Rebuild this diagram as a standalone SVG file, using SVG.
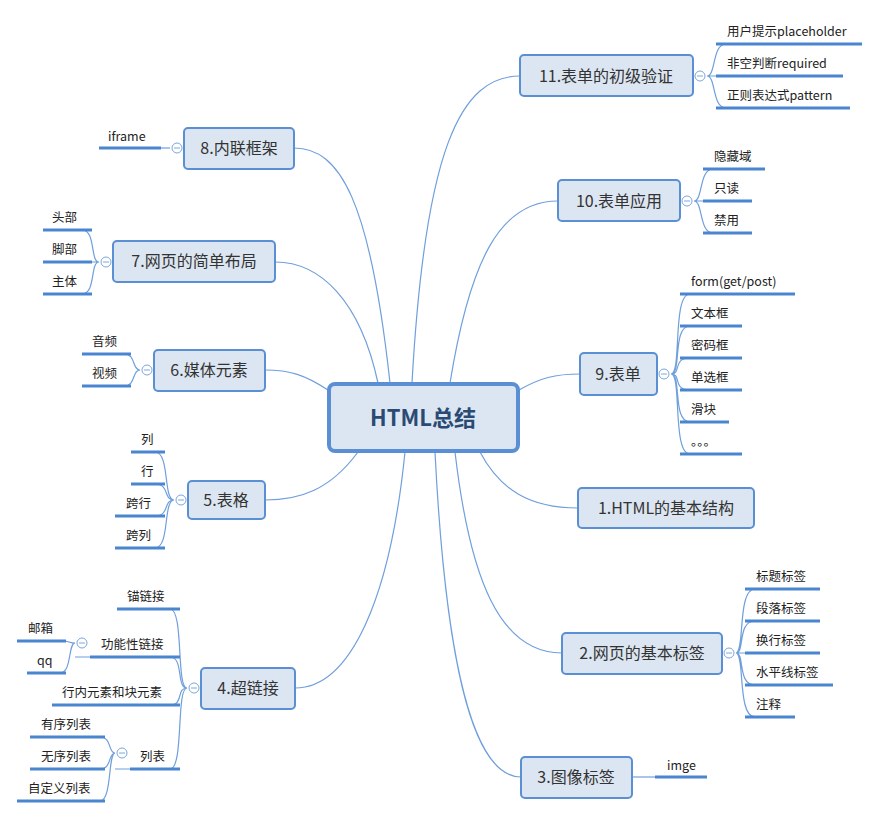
<svg xmlns="http://www.w3.org/2000/svg" width="880" height="818" viewBox="0 0 880 818">
<style>
.t{fill:#dce6f2;stroke:#5b8fd4;stroke-width:2}
.tt{font-family:"Microsoft YaHei","Noto Sans CJK SC",sans-serif;font-size:16px;fill:#333;text-anchor:middle}
.lt{font-family:"Microsoft YaHei","Noto Sans CJK SC",sans-serif;font-size:12.5px;fill:#222}
.ul{stroke:#4a86d0;stroke-width:3}
.c{fill:none;stroke:#6f9fdc;stroke-width:1.2}
.cc{fill:#fff;stroke:#7aa6de;stroke-width:1}
.m{stroke:#7aa6de;stroke-width:1}
</style>
<rect width="880" height="818" fill="#fff"/>
<g id="connectors">
<path class="c" d="M412 383 C425 150 460 76 520 76"/>
<path class="c" d="M450 383 C470 260 500 201 558 201"/>
<path class="c" d="M519 390 C540 378 555 374 580 374"/>
<path class="c" d="M480 452 C500 490 530 508 578 508"/>
<path class="c" d="M455 452 C470 580 500 653 562 653"/>
<path class="c" d="M435 452 C445 650 470 777 521 777"/>
<path class="c" d="M390 383 C370 200 340 148 294 148"/>
<path class="c" d="M378 383 C360 300 320 262 275 262"/>
<path class="c" d="M328 390 C305 375 290 370 265 370"/>
<path class="c" d="M358 452 C330 490 300 500 265 500"/>
<path class="c" d="M405 452 C390 600 350 688 295 688"/>
<path class="c" d="M632 777 L655 777"/>
<!-- leaf brackets right -->
<path class="c" d="M707 76 C716 76 712 44 726 44 M707 76 L716 76 M707 76 C716 76 712 108 726 108"/>
<path class="c" d="M694 201 C703 201 699 169 713 169 M694 201 L703 201 M694 201 C703 201 699 233 713 233"/>
<path class="c" d="M671 374 C682 374 672 294 690 294 M671 374 C682 374 672 326 690 326 M671 374 C682 374 672 358 690 358 M671 374 C682 374 672 390 690 390 M671 374 C682 374 672 422 690 422 M671 374 C682 374 672 454 690 454"/>
<path class="c" d="M736 653 C745 653 737 589 755 589 M736 653 C745 653 737 621 755 621 M736 653 L745 653 M736 653 C745 653 737 685 755 685 M736 653 C745 653 737 717 755 717"/>
<!-- left -->
<path class="c" d="M170 148 L161 148"/>
<path class="c" d="M99 262 C90 262 96 230 82 230 M99 262 L92 262 M99 262 C90 262 96 294 82 294"/>
<path class="c" d="M140 370 C132 370 136 354 124 354 M140 370 C132 370 136 386 124 386"/>
<path class="c" d="M174 500 C163 500 170 452 155 452 M174 500 C163 500 170 484 155 484 M174 500 C163 500 170 516 155 516 M174 500 C163 500 170 548 155 548"/>
<path class="c" d="M187 688 C176 688 184 609 170 609 M187 688 C176 688 184 657 170 657 M187 688 C176 688 184 705 170 705 M187 688 C176 688 184 769 170 769"/>
<path class="c" d="M90 657 L75 657 M75 643 C68 643 72 641 60 641 M75 643 C68 643 72 673 60 673"/>
<path class="c" d="M130 769 L115 769 M115 753 C108 753 112 737 100 737 M115 753 C108 753 112 769 100 769 M115 753 C108 753 112 801 100 801"/>
</g>
<g id="center"><rect x="329" y="384" width="189" height="67" rx="6" fill="#dce6f2" stroke="#5b8fd4" stroke-width="4"/><text x="423" y="426" font-family="'Microsoft YaHei','Noto Sans CJK SC',sans-serif" font-size="22" font-weight="bold" fill="#2b4a73" text-anchor="middle">HTML总结</text></g>
<g id="n11"><rect class="t" x="520" y="55" width="173" height="41" rx="4"/><text class="tt" x="606" y="82">11.表单的初级验证</text><circle class="cc" cx="700" cy="76" r="5"/><line class="m" x1="697" y1="76" x2="703" y2="76"/>
<line class="ul" x1="716" y1="44" x2="862" y2="44"/><text class="lt" x="727" y="36">用户提示placeholder</text>
<line class="ul" x1="716" y1="76" x2="843" y2="76"/><text class="lt" x="727" y="68">非空判断required</text>
<line class="ul" x1="716" y1="108" x2="850" y2="108"/><text class="lt" x="727" y="100">正则表达式pattern</text></g>
<g id="n10"><rect class="t" x="558" y="180" width="122" height="41" rx="4"/><text class="tt" x="619" y="207">10.表单应用</text><circle class="cc" cx="687" cy="201" r="5"/><line class="m" x1="684" y1="201" x2="690" y2="201"/>
<line class="ul" x1="703" y1="169" x2="765" y2="169"/><text class="lt" x="714" y="161">隐藏域</text>
<line class="ul" x1="703" y1="201" x2="752" y2="201"/><text class="lt" x="714" y="193">只读</text>
<line class="ul" x1="703" y1="233" x2="752" y2="233"/><text class="lt" x="714" y="225">禁用</text></g>
<g id="n9"><rect class="t" x="580" y="353" width="77" height="42" rx="4"/><text class="tt" x="618" y="380">9.表单</text><circle class="cc" cx="664" cy="374" r="5"/><line class="m" x1="661" y1="374" x2="667" y2="374"/>
<line class="ul" x1="680" y1="294" x2="795" y2="294"/><text class="lt" x="691" y="286">form(get/post)</text>
<line class="ul" x1="680" y1="326" x2="742" y2="326"/><text class="lt" x="691" y="318">文本框</text>
<line class="ul" x1="680" y1="358" x2="742" y2="358"/><text class="lt" x="691" y="350">密码框</text>
<line class="ul" x1="680" y1="390" x2="742" y2="390"/><text class="lt" x="691" y="382">单选框</text>
<line class="ul" x1="680" y1="422" x2="729" y2="422"/><text class="lt" x="691" y="414">滑块</text>
<line class="ul" x1="680" y1="454" x2="742" y2="454"/><text class="lt" x="691" y="446">。。。</text></g>
<g id="n1"><rect class="t" x="578" y="488" width="176" height="40" rx="4"/><text class="tt" x="666" y="514">1.HTML的基本结构</text></g>
<g id="n2"><rect class="t" x="562" y="633" width="160" height="41" rx="4"/><text class="tt" x="642" y="659">2.网页的基本标签</text><circle class="cc" cx="729" cy="653" r="5"/><line class="m" x1="726" y1="653" x2="732" y2="653"/>
<line class="ul" x1="745" y1="589" x2="820" y2="589"/><text class="lt" x="756" y="581">标题标签</text>
<line class="ul" x1="745" y1="621" x2="820" y2="621"/><text class="lt" x="756" y="613">段落标签</text>
<line class="ul" x1="745" y1="653" x2="820" y2="653"/><text class="lt" x="756" y="645">换行标签</text>
<line class="ul" x1="745" y1="685" x2="833" y2="685"/><text class="lt" x="756" y="677">水平线标签</text>
<line class="ul" x1="745" y1="717" x2="795" y2="717"/><text class="lt" x="756" y="709">注释</text></g>
<g id="n3"><rect class="t" x="521" y="757" width="111" height="41" rx="4"/><text class="tt" x="576" y="783">3.图像标签</text>
<line class="ul" x1="655" y1="777" x2="707" y2="777"/><text class="lt" x="667" y="770">imge</text></g>
<g id="n8"><rect class="t" x="184" y="128" width="110" height="41" rx="4"/><text class="tt" x="239" y="154">8.内联框架</text><circle class="cc" cx="177" cy="148" r="5"/><line class="m" x1="174" y1="148" x2="180" y2="148"/>
<line class="ul" x1="99" y1="148" x2="161" y2="148"/><text class="lt" x="108" y="141">iframe</text></g>
<g id="n7"><rect class="t" x="113" y="241" width="162" height="41" rx="4"/><text class="tt" x="194" y="267">7.网页的简单布局</text><circle class="cc" cx="106" cy="262" r="5"/><line class="m" x1="103" y1="262" x2="109" y2="262"/>
<line class="ul" x1="43" y1="230" x2="92" y2="230"/><text class="lt" x="52" y="222">头部</text>
<line class="ul" x1="43" y1="262" x2="92" y2="262"/><text class="lt" x="52" y="254">脚部</text>
<line class="ul" x1="43" y1="294" x2="92" y2="294"/><text class="lt" x="52" y="286">主体</text></g>
<g id="n6"><rect class="t" x="154" y="350" width="111" height="41" rx="4"/><text class="tt" x="209" y="376">6.媒体元素</text><circle class="cc" cx="147" cy="370" r="5"/><line class="m" x1="144" y1="370" x2="150" y2="370"/>
<line class="ul" x1="82" y1="354" x2="131" y2="354"/><text class="lt" x="92" y="346">音频</text>
<line class="ul" x1="82" y1="386" x2="131" y2="386"/><text class="lt" x="92" y="378">视频</text></g>
<g id="n5"><rect class="t" x="188" y="481" width="77" height="38" rx="4"/><text class="tt" x="226" y="506">5.表格</text><circle class="cc" cx="181" cy="500" r="5"/><line class="m" x1="178" y1="500" x2="184" y2="500"/>
<line class="ul" x1="131" y1="452" x2="165" y2="452"/><text class="lt" x="141" y="444">列</text>
<line class="ul" x1="131" y1="484" x2="165" y2="484"/><text class="lt" x="141" y="476">行</text>
<line class="ul" x1="115" y1="516" x2="165" y2="516"/><text class="lt" x="126" y="508">跨行</text>
<line class="ul" x1="115" y1="548" x2="165" y2="548"/><text class="lt" x="126" y="540">跨列</text></g>
<g id="n4"><rect class="t" x="201" y="668" width="94" height="41" rx="4"/><text class="tt" x="248" y="694">4.超链接</text><circle class="cc" cx="194" cy="688" r="5"/><line class="m" x1="191" y1="688" x2="197" y2="688"/>
<line class="ul" x1="117" y1="609" x2="180" y2="609"/><text class="lt" x="127" y="601">锚链接</text>
<line class="ul" x1="90" y1="657" x2="180" y2="657"/><text class="lt" x="101" y="649">功能性链接</text>
<line class="ul" x1="52" y1="705" x2="180" y2="705"/><text class="lt" x="62" y="697">行内元素和块元素</text>
<line class="ul" x1="130" y1="769" x2="180" y2="769"/><text class="lt" x="140" y="761">列表</text>
<circle class="cc" cx="82" cy="643" r="5"/><line class="m" x1="79" y1="643" x2="85" y2="643"/>
<line class="ul" x1="17" y1="641" x2="66" y2="641"/><text class="lt" x="28" y="633">邮箱</text>
<line class="ul" x1="27" y1="673" x2="66" y2="673"/><text class="lt" x="37" y="665">qq</text>
<circle class="cc" cx="122" cy="753" r="5"/><line class="m" x1="119" y1="753" x2="125" y2="753"/>
<line class="ul" x1="30" y1="737" x2="105" y2="737"/><text class="lt" x="41" y="729">有序列表</text>
<line class="ul" x1="30" y1="769" x2="105" y2="769"/><text class="lt" x="41" y="761">无序列表</text>
<line class="ul" x1="17" y1="801" x2="105" y2="801"/><text class="lt" x="28" y="793">自定义列表</text></g>
</svg>
